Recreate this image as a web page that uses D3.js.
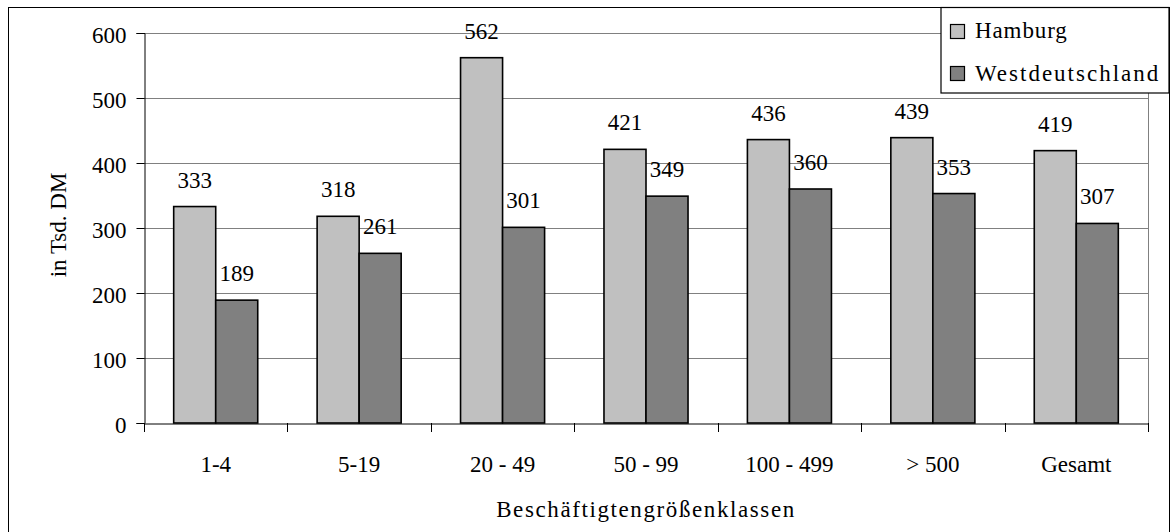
<!DOCTYPE html>
<html><head><meta charset="utf-8">
<script src="https://cdn.jsdelivr.net/npm/d3@7"></script>
<style>body{margin:0;background:#fff}svg{display:block}text{font-family:"Liberation Serif","Times New Roman",serif;fill:#000}</style>
</head><body><svg id="c" width="1171" height="532"></svg>
<script>
const categories = ["1-4","5-19","20 - 49","50 - 99","100 - 499","> 500","Gesamt"];
const seriesNames = ["Hamburg","Westdeutschland"];
const hamburg = [333,318,562,421,436,439,419];
const westdeutschland = [189,261,301,349,360,353,307];
const yTicks = [0,100,200,300,400,500,600];
const colors = ["#C0C0C0","#808080"];

const FS = 23;
const svg = d3.select("#c");
const L=144,R=1148,T=33,B=423;
svg.append("rect").attr("x",8.5).attr("y",7.5).attr("width",1161).attr("height",540).attr("fill","#fff").attr("stroke","#000");

const x = d3.scaleBand().domain(categories).range([L,R]).padding(0);
const bw = x.bandwidth();
const xs = d3.scaleBand().domain(seriesNames).range([0,bw*0.586]).padding(0);
const off = (bw - bw*0.586)/2;
const y = d3.scaleLinear().domain([0,600]).range([B,T]);

// gridlines
svg.append("g").selectAll("line").data(yTicks.filter(d=>d>0)).join("line")
  .attr("x1",L).attr("x2",R).attr("y1",d=>Math.round(y(d))+0.5).attr("y2",d=>Math.round(y(d))+0.5)
  .attr("stroke","#808080").attr("stroke-width",1);
// right border
svg.append("line").attr("x1",R+0.5).attr("x2",R+0.5).attr("y1",T).attr("y2",B).attr("stroke","#808080");

const data = [hamburg, westdeutschland];
data.forEach((vals,si)=>{
  const g = svg.append("g");
  g.selectAll("rect").data(vals).join("rect")
    .attr("x",(d,i)=>x(categories[i])+off+xs(seriesNames[si]))
    .attr("y",d=>y(d)).attr("width",xs.bandwidth()).attr("height",d=>B-y(d))
    .attr("fill",colors[si]).attr("stroke","#000").attr("stroke-width",1.6);
  g.selectAll("text").data(vals).join("text")
    .attr("x",(d,i)=>x(categories[i])+off+xs(seriesNames[si])+xs.bandwidth()/2)
    .attr("y",d=>y(d)-19).attr("text-anchor","middle").attr("font-size",FS).text(d=>d);
});

// y axis
const ya = d3.axisLeft(y).tickValues(yTicks).tickSize(8).tickPadding(10);
const yg = svg.append("g").attr("transform",`translate(${L+0.5},0)`).call(ya);
yg.attr("font-family",null).attr("font-size",null);
yg.selectAll("text").attr("font-size",FS).attr("fill","#000").attr("dy","0.4em");
yg.selectAll("line,path").attr("stroke","#000");
// x axis
const xa = d3.axisBottom(x).tickSize(0).tickPadding(0);
const xg = svg.append("g").attr("transform",`translate(0,${B+0.5})`).call(xa);
xg.attr("font-family",null).attr("font-size",null);
xg.select("path").attr("stroke","#000");
xg.selectAll("text").attr("font-size",FS).attr("fill","#000").attr("dy",0).attr("y",48);
const bounds = categories.map(c=>x(c)).concat([R]);
svg.append("g").selectAll("line").data(bounds).join("line")
  .attr("x1",d=>Math.round(d)+0.5).attr("x2",d=>Math.round(d)+0.5).attr("y1",B).attr("y2",B+9).attr("stroke","#000");

// titles
svg.append("text").attr("x",(L+R)/2).attr("y",517).attr("text-anchor","middle").attr("font-size",FS).attr("letter-spacing",1.6).text("Beschäftigtengrößenklassen");
svg.append("text").attr("transform","translate(66,225) rotate(-90)").attr("text-anchor","middle").attr("font-size",FS).text("in Tsd. DM");

// legend
const lg = svg.append("g");
lg.append("rect").attr("x",941).attr("y",7.5).attr("width",228).attr("height",85.5).attr("fill","#fff").attr("stroke","#000").attr("stroke-width",1.2);
const ls = [0.9, 2.0];
seriesNames.forEach((n,i)=>{
  lg.append("rect").attr("x",950.5).attr("y",24.5+i*42).attr("width",14).attr("height",14).attr("fill",colors[i]).attr("stroke","#000").attr("stroke-width",1.2);
  lg.append("text").attr("x",975).attr("y",38+i*43).attr("font-size",FS).attr("letter-spacing",ls[i]).text(n);
});
</script></body></html>
